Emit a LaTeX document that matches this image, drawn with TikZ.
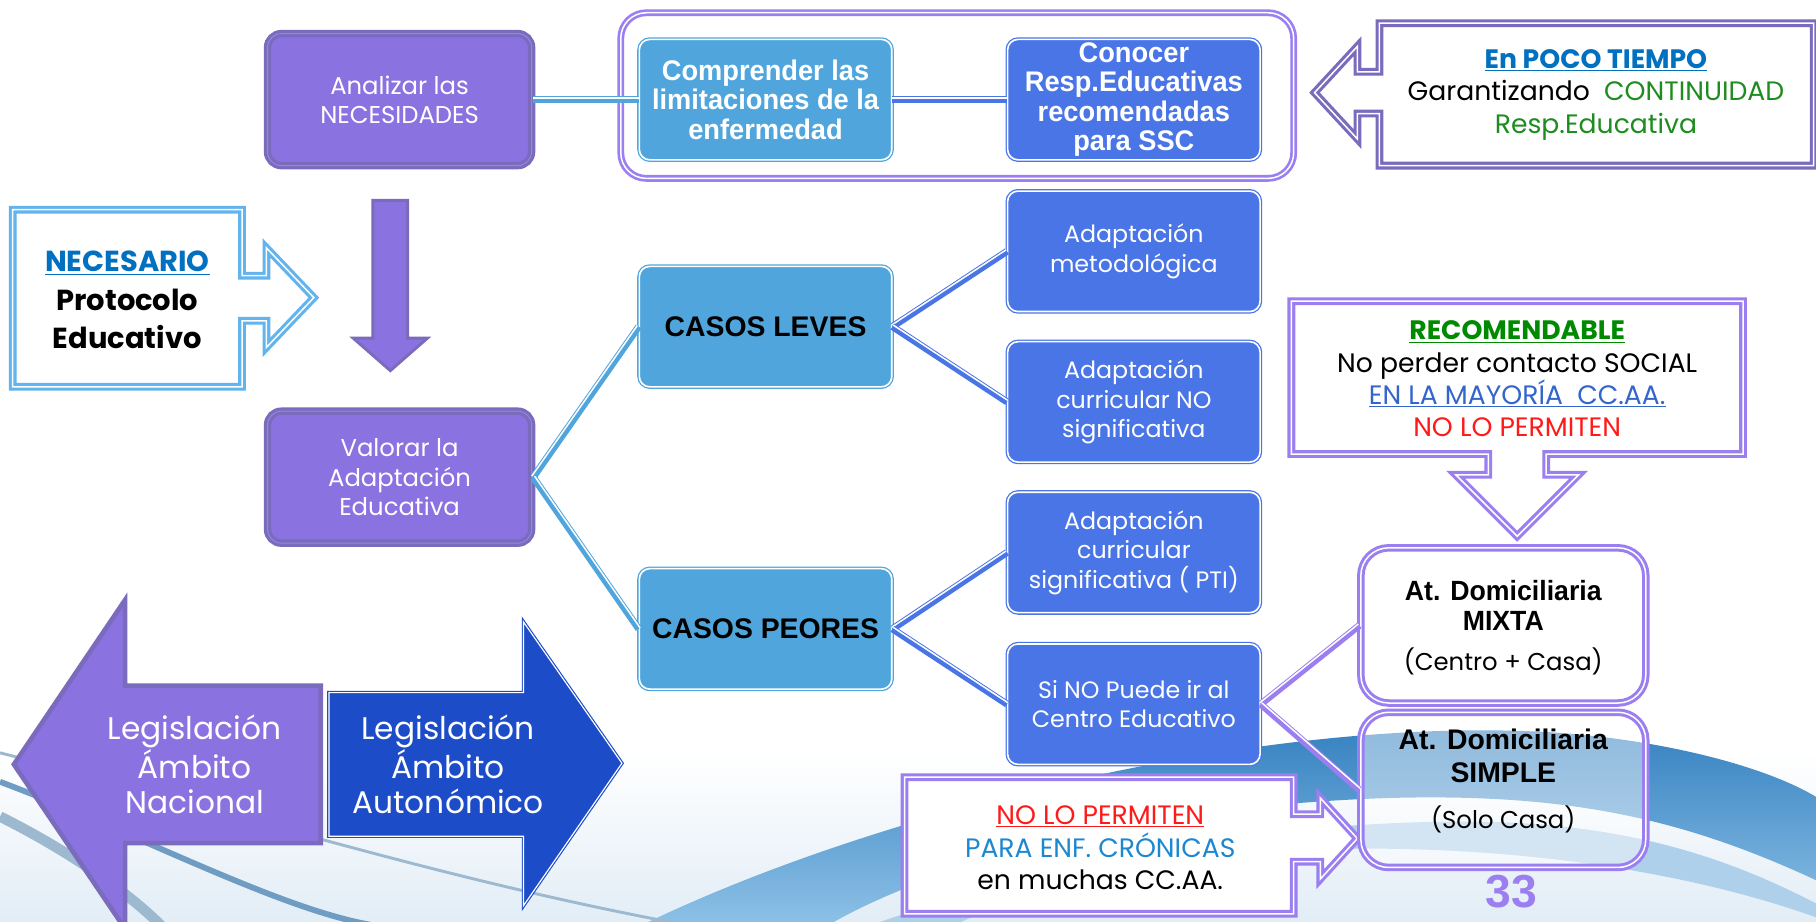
\documentclass[tikz,border=0pt]{standalone}
\usepackage{fontspec}
\setmainfont{Poppins}
\newfontfamily\narrowb[FakeStretch=0.96]{Liberation Sans}
\newfontfamily\arialf{Liberation Sans}
\usetikzlibrary{calc}
\definecolor{pF}{HTML}{8A72E0}
\definecolor{pD}{HTML}{7A6BBD}
\definecolor{pM}{HTML}{9784E6}
\definecolor{pL}{HTML}{9B7FF0}
\definecolor{lb}{HTML}{50A6DC}
\definecolor{rb}{HTML}{4A75E6}
\definecolor{db}{HTML}{1C4CC7}
\definecolor{nbc}{HTML}{62B4EE}
\definecolor{tblue}{HTML}{0070C0}
\definecolor{tgreen}{HTML}{1E8C1E}
\definecolor{rgreen}{HTML}{008A00}
\definecolor{tred}{HTML}{FF1A1A}
\definecolor{mblue}{HTML}{3366CC}
\definecolor{cblue}{HTML}{1E88CF}
\definecolor{swA}{HTML}{2F7DBE}
\definecolor{swB}{HTML}{8CC0E6}
\definecolor{swC}{HTML}{AFD0EA}
\definecolor{swD}{HTML}{6F9CC2}
\definecolor{swE}{HTML}{9DB9D0}
\definecolor{swL}{HTML}{E2EDF6}
\newcommand\myconn[3]{%
  \draw[draw=#1, line width=6pt] (#2) -- (#3);
  \draw[white, line width=1.3pt] ($(#2)!1.5pt!90:(#3)$) -- ($(#3)!1.5pt!-90:(#2)$);}
\begin{document}
\begin{tikzpicture}[x=1pt,y=-1pt,
  purplebox/.style={rectangle, rounded corners=12pt, fill=pF, draw=pD, line width=2.8pt, double=pM, double distance=0.8pt, text=white, align=center, minimum width=228pt, minimum height=114pt, font=\fontsize{21}{25.5}\selectfont},
  lbbox/.style={rectangle, rounded corners=9pt, fill=lb, draw=lb, line width=1.1pt, double=white, double distance=1.4pt, align=center, minimum width=218pt, minimum height=104pt, inner sep=2pt},
  rbbox/.style={lbbox, fill=rb, draw=rb, text=white, font=\fontsize{20.5}{25.5}\selectfont},
  boldw/.style={text=white, font=\narrowb\bfseries\fontsize{24.5}{25.3}\selectfont},
  casos/.style={text=black, font=\arialf\bfseries\fontsize{24.5}{28}\selectfont},
  callout/.style={fill=white, line width=2.7pt, double=white, double distance=1.3pt, line join=miter},
  dombox/.style={rectangle, rounded corners=24pt, fill=white, draw=pL, line width=2.6pt, double=white, double distance=1.3pt, minimum width=246pt, minimum height=134pt},
  ctext/.style={align=center, font=\fontsize{23}{27.7}\selectfont}
]
\useasboundingbox (0,0) rectangle (1568,796);
% ---------- background ----------
\fill[white] (0,0) rectangle (1568,796);
\shade[top color=white, bottom color=swL] (0,650) rectangle (1568,796);
\shade[top color=swA, bottom color=swB] (560,796) .. controls (760,700) and (1100,615) .. (1350,633) .. controls (1450,641) and (1530,665) .. (1568,688) -- (1568,760) .. controls (1450,705) and (1350,685) .. (1200,689) .. controls (1000,695) and (820,740) .. (720,796) -- cycle;
\fill[swC] (760,796) .. controls (950,730) and (1150,705) .. (1300,710) .. controls (1420,715) and (1500,745) .. (1568,780) -- (1568,792) .. controls (1450,750) and (1300,730) .. (1150,733) .. controls (1000,740) and (880,772) .. (830,796) -- cycle;
\draw[swE, line width=2.5pt] (0,650) .. controls (200,700) and (380,760) .. (600,800);
\draw[swD, line width=5pt] (0,675) .. controls (120,720) and (250,790) .. (330,800);
\draw[swE, line width=9pt] (0,705) .. controls (60,735) and (110,770) .. (140,800);
% ---------- legislation arrows ----------
\draw[fill=pF, draw=pD, line width=4pt, line join=miter] (12,660) -- (108,518) -- (108,592) -- (277,592) -- (277,728) -- (108,728) -- (108,802) -- cycle;
\node[text=white, align=center, font=\fontsize{27}{30.5}\selectfont] (nactxt) at (168,660) {Legislación\\Ámbito\\Nacional};
\draw[fill=db, draw=db, line width=1pt, double=white, double distance=1pt, line join=miter] (284,598) -- (452,598) -- (452,537) -- (537,659) -- (452,782) -- (452,722) -- (284,722) -- cycle;
\node[text=white, align=center, font=\fontsize{27}{30.5}\selectfont] (auttxt) at (387,660) {Legislación\\Ámbito\\Autonómico};
% ---------- down arrow ----------
\draw[fill=pF, draw=pD, line width=2.5pt, line join=miter] (322,173) -- (352,173) -- (352,292) -- (369,292) -- (337,320) -- (305,292) -- (322,292) -- cycle;
% ---------- callouts ----------
\draw[callout, draw=nbc] (11,181) -- (209,181) -- (209,238) -- (230,238) -- (230,214) -- (271,257) -- (230,300) -- (230,277) -- (209,277) -- (209,334) -- (11,334) -- cycle;
\node[align=center, font=\bfseries\fontsize{25}{33}\selectfont] (necetxt) at (110,259) {{\color{tblue}\underline{NECESARIO}}\\Protocolo\\Educativo};
\draw[callout, draw=pD] (1191,20) -- (1566,20) -- (1566,143) -- (1191,143) -- (1191,98) -- (1172,98) -- (1172,120) -- (1135,80) -- (1172,40) -- (1172,62) -- (1191,62) -- cycle;
\node[ctext] (pocotxt) at (1378,82) {{\bfseries\color{tblue}\underline{En POCO TIEMPO}}\\Garantizando\ \ {\color{tgreen}CONTINUIDAD}\\{\color{tgreen}Resp.Educativa}};
\draw[callout, draw=pL] (1115,260) -- (1505,260) -- (1505,392) -- (1335,392) -- (1335,410) -- (1363,410) -- (1310,463) -- (1257,410) -- (1285,410) -- (1285,392) -- (1115,392) -- cycle;
\node[ctext] (recotxt) at (1310,327) {{\bfseries\color{rgreen}\underline{RECOMENDABLE}}\\No perder contacto SOCIAL\\{\color{mblue}\underline{EN LA MAYORÍA\ \ CC.AA.}}\\{\color{tred}NO LO PERMITEN}};
\draw[callout, draw=pL] (781,671) -- (1117,671) -- (1117,703) -- (1140,703) -- (1140,689) -- (1172,724) -- (1140,759) -- (1140,744) -- (1117,744) -- (1117,789) -- (781,789) -- cycle;
\node[ctext, font=\fontsize{23}{28}\selectfont] (nolotxt) at (950,732) {{\color{tred}\underline{NO LO PERMITEN}}\\{\color{cblue}PARA ENF. CRÓNICAS}\\en muchas CC.AA.};
% ---------- top group ----------
\node[draw=pL, line width=2.3pt, double=white, double distance=1.3pt, rounded corners=22pt, minimum width=581pt, minimum height=143pt] (grp) at (826.5,82.5) {};
\node[purplebox] (anal) at (345,86) {Analizar las\\NECESIDADES};
\node[lbbox, boldw] (comp) at (661,86) {Comprender las\\limitaciones de la\\enfermedad};
\node[rbbox, boldw] (cono) at (979,86) {Conocer\\Resp.Educativas\\recomendadas\\para SSC};
% ---------- middle ----------
\node[purplebox] (valo) at (345,412) {Valorar la\\Adaptación\\Educativa};
\node[lbbox, casos] (leves) at (661,282) {CASOS LEVES};
\node[lbbox, casos] (peores) at (661,543) {CASOS PEORES};
\node[rbbox] (ametod) at (979,217) {Adaptación\\metodológica};
\node[rbbox] (ano) at (979,347) {Adaptación\\curricular NO\\significativa};
\node[rbbox] (asig) at (979,477) {Adaptación\\curricular\\significativa ( PTI)};
\node[rbbox] (sino) at (979,608) {Si NO Puede ir al\\Centro Educativo};
% ---------- home care ----------
\node[dombox] (mixta) at (1298,540) {};
\node[align=center, font=\fontsize{24}{26}\selectfont] (mixtatxt) at (1298,542) {\narrowb\bfseries\fontsize{24}{26}\selectfont At. Domiciliaria\\\narrowb\bfseries\fontsize{24}{26}\selectfont MIXTA\\[9pt]\fontsize{21}{26}\selectfont (Centro + Casa)};
\node[dombox, fill opacity=0.45, text opacity=1] (simple) at (1298,682) {};
\node[align=center, font=\fontsize{24}{29}\selectfont] (simpletxt) at (1298,674) {\arialf\bfseries\fontsize{24.5}{29}\selectfont At. Domiciliaria\\\arialf\bfseries\fontsize{24.5}{29}\selectfont SIMPLE\\[10pt]\fontsize{21}{26}\selectfont (Solo Casa)};
% ---------- connectors ----------
\myconn{lb}{anal.east}{comp.west}
\myconn{rb}{comp.east}{cono.west}
\myconn{lb}{valo.east}{leves.west}
\myconn{lb}{valo.east}{peores.west}
\myconn{rb}{leves.east}{ametod.west}
\myconn{rb}{leves.east}{ano.west}
\myconn{rb}{peores.east}{asig.west}
\myconn{rb}{peores.east}{sino.west}
\myconn{pL}{sino.east}{mixta.west}
\myconn{pL}{sino.east}{simple.west}
% ---------- page number ----------
\node[text=pL, font=\arialf\bfseries\fontsize{40}{40}\selectfont] (pnum) at (1305,770) {33};
\end{tikzpicture}
\end{document}
